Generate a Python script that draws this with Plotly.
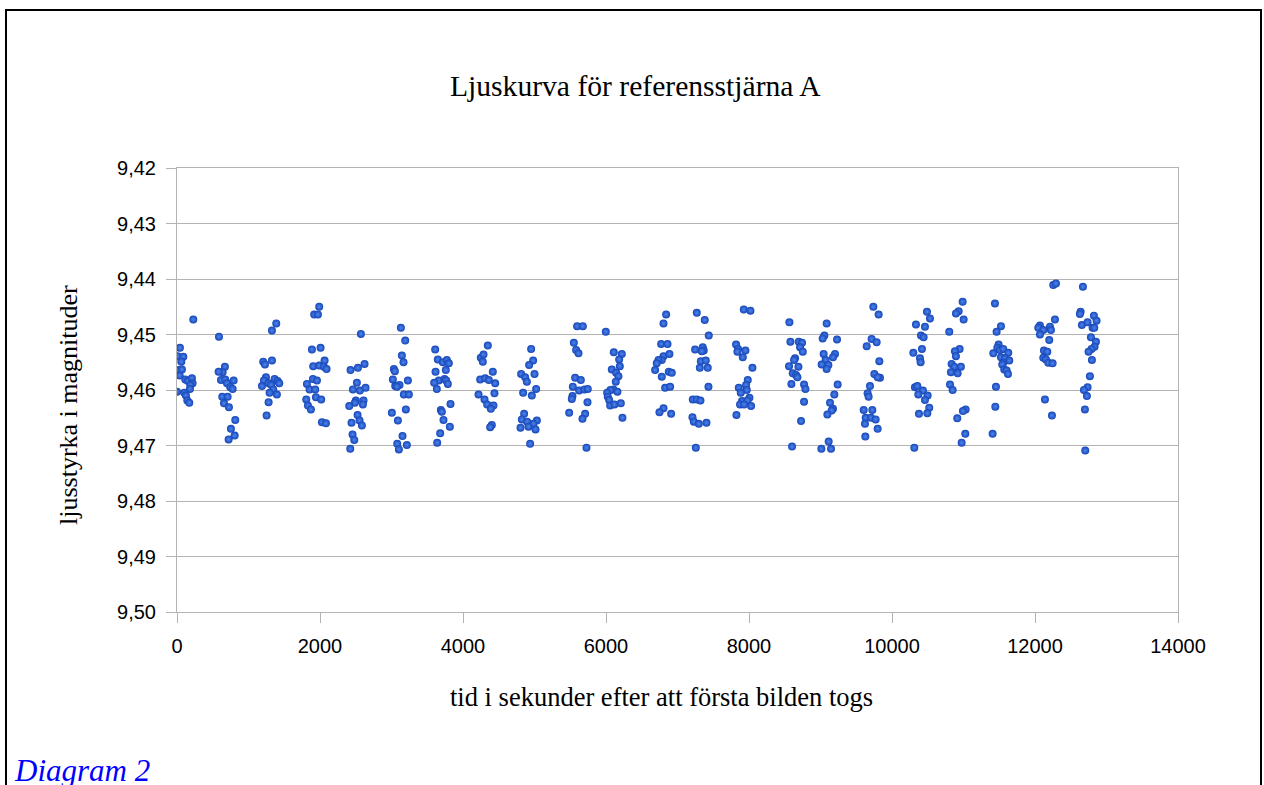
import plotly.graph_objects as go

# Time in seconds after the first image, grouped by observation block
time_s = [
    # block 1
    228, 41, 9, 88, 60, 23, 69, 37, 116, 153, 209, 218, 186, 181, 0, 102, 125, 144, 172,
    # block 2
    587, 670, 638, 582, 615, 675, 792, 699, 745, 778, 633, 708, 657, 726, 815, 754, 806, 722,
    # block 3
    1388, 1328, 1206, 1230, 1328, 1244, 1216, 1188, 1281, 1365, 1407, 1430, 1318, 1346, 1295, 1397, 1281, 1253,
    # block 4
    1989, 1919, 1971, 1887, 2008, 1905, 1989, 2064, 2054, 2092, 1901, 1957, 1817, 1854, 1933, 1808, 1943, 2017, 1831, 1873, 2027, 2083,
    # block 5
    2572, 2427, 2530, 2623, 2516, 2460, 2558, 2637, 2502, 2488, 2609, 2600, 2409, 2525, 2441, 2553, 2586, 2455, 2479, 2423,
    # block 6
    3131, 3192, 3145, 3168, 3033, 3047, 3019, 3229, 3052, 3112, 3075, 3173, 3243, 3201, 3005, 3089, 3154, 3080, 3215, 3103,
    # block 7
    3611, 3648, 3718, 3774, 3802, 3616, 3760, 3662, 3741, 3765, 3597, 3788, 3634, 3690, 3704, 3825, 3727, 3816, 3681, 3639,
    # block 8
    4347, 4249, 4287, 4277, 4417, 4240, 4310, 4361, 4450, 4217, 4301, 4440, 4338, 4426, 4389, 4403, 4380,
    # block 9
    4953, 4981, 4925, 4813, 4869, 4893, 5000, 5023, 4841, 4963, 4855, 4823, 4897, 5033, 4986, 4804, 4916, 5014, 4939,
    # block 10
    5596, 5676, 5550, 5582, 5615, 5568, 5648, 5536, 5624, 5699, 5745, 5531, 5522, 5741, 5708, 5485, 5671, 5727,
    # block 11
    5997, 6109, 6221, 6184, 6193, 6081, 6142, 6174, 6137, 6104, 6062, 6016, 6160, 6025, 6044, 6058, 6118, 6207, 6230,
    # block 12
    6841, 6804, 6771, 6860, 6804, 6887, 6780, 6734, 6710, 6687, 6878, 6920, 6780, 6827, 6897, 6804, 6911, 6748,
    # block 13
    7270, 7381, 7437, 7246, 7353, 7367, 7340, 7326, 7395, 7312, 7423, 7433, 7214, 7270, 7321, 7209, 7228, 7298, 7405, 7256,
    # block 14
    7927, 8020, 7819, 7847, 7838, 7950, 7913, 8048, 7983, 7959, 7857, 7969, 7885, 8006, 7903, 7978, 7875, 7931, 8029, 7824,
    # block 15
    8565, 8579, 8696, 8742, 8714, 8752, 8644, 8630, 8560, 8691, 8612, 8658, 8677, 8593, 8770, 8789, 8770, 8728, 8602,
    # block 16
    9086, 9054, 9030, 9231, 9044, 9203, 9175, 9072, 9016, 9110, 9086, 9240, 9193, 9133, 9175, 9156, 9096, 9114, 9012, 9147,
    # block 17
    9739, 9813, 9715, 9785, 9646, 9823, 9753, 9832, 9799, 9692, 9659, 9673, 9604, 9725, 9632, 9706, 9771, 9622, 9799, 9627,
    # block 18
    10489, 10531, 10335, 10461, 10405, 10442, 10419, 10298, 10391, 10400, 10321, 10354, 10433, 10368, 10498, 10461, 10521, 10377, 10494, 10312,
    # block 19
    10988, 10932, 10894, 11002, 10801, 10946, 10880, 10894, 10834, 10871, 10964, 10824, 10918, 10811, 10848, 11030, 10992, 10913, 11025, 10974,
    # block 20
    11440, 11524, 11463, 11417, 11491, 11473, 11510, 11556, 11626, 11524, 11580, 11640, 11556, 11542, 11570, 11603, 11622, 11454, 11445, 11407,
    # block 21
    12255, 12293, 12279, 12069, 12046, 12116, 12209, 12223, 12069, 12199, 12125, 12172, 12116, 12153, 12186, 12246, 12139, 12237,
    # block 22
    12670, 12638, 12628, 12824, 12861, 12656, 12735, 12805, 12829, 12782, 12852, 12833, 12791, 12749, 12796, 12768, 12735, 12684, 12726, 12698, 12703,
]

# Brightness in magnitudes, same order as time_s
magnitude = [
    9.4473, 9.4524, 9.4539, 9.4540, 9.4549, 9.4564, 9.4563, 9.4574, 9.4581, 9.4584, 9.4579, 9.4588, 9.4591, 9.4598, 9.4603, 9.4605, 9.4610, 9.4619, 9.4623,
    9.4504, 9.4558, 9.4568, 9.4567, 9.4582, 9.4581, 9.4583, 9.4588, 9.4595, 9.4598, 9.4612, 9.4612, 9.4624, 9.4631, 9.4654, 9.4670, 9.4682, 9.4689,
    9.4480, 9.4493, 9.4549, 9.4554, 9.4547, 9.4577, 9.4583, 9.4593, 9.4588, 9.4580, 9.4584, 9.4588, 9.4591, 9.4599, 9.4605, 9.4608, 9.4622, 9.4646,
    9.4450, 9.4464, 9.4464, 9.4527, 9.4524, 9.4557, 9.4556, 9.4547, 9.4558, 9.4562, 9.4580, 9.4583, 9.4589, 9.4599, 9.4599, 9.4617, 9.4613, 9.4617, 9.4628, 9.4635, 9.4658, 9.4660,
    9.4499, 9.4564, 9.4560, 9.4553, 9.4587, 9.4599, 9.4601, 9.4596, 9.4619, 9.4623, 9.4619, 9.4626, 9.4629, 9.4645, 9.4659, 9.4655, 9.4664, 9.4680, 9.4690, 9.4706,
    9.4488, 9.4511, 9.4538, 9.4550, 9.4562, 9.4566, 9.4581, 9.4583, 9.4593, 9.4591, 9.4594, 9.4608, 9.4608, 9.4635, 9.4641, 9.4655, 9.4683, 9.4697, 9.4699, 9.4707,
    9.4527, 9.4545, 9.4550, 9.4546, 9.4552, 9.4567, 9.4564, 9.4583, 9.4580, 9.4583, 9.4587, 9.4589, 9.4598, 9.4636, 9.4639, 9.4625, 9.4654, 9.4666, 9.4678, 9.4695,
    9.4520, 9.4542, 9.4536, 9.4549, 9.4567, 9.4581, 9.4579, 9.4582, 9.4588, 9.4608, 9.4617, 9.4606, 9.4626, 9.4628, 9.4634, 9.4663, 9.4667,
    9.4526, 9.4547, 9.4555, 9.4571, 9.4577, 9.4585, 9.4571, 9.4598, 9.4605, 9.4610, 9.4643, 9.4653, 9.4657, 9.4655, 9.4661, 9.4668, 9.4666, 9.4671, 9.4697,
    9.4485, 9.4485, 9.4515, 9.4528, 9.4534, 9.4578, 9.4582, 9.4594, 9.4601, 9.4599, 9.4598, 9.4611, 9.4616, 9.4622, 9.4643, 9.4641, 9.4652, 9.4704,
    9.4495, 9.4532, 9.4535, 9.4545, 9.4557, 9.4563, 9.4569, 9.4575, 9.4585, 9.4599, 9.4600, 9.4605, 9.4603, 9.4612, 9.4618, 9.4628, 9.4626, 9.4624, 9.4650,
    9.4464, 9.4480, 9.4517, 9.4517, 9.4539, 9.4535, 9.4546, 9.4546, 9.4552, 9.4564, 9.4567, 9.4569, 9.4576, 9.4596, 9.4594, 9.4633, 9.4643, 9.4640,
    9.4461, 9.4474, 9.4502, 9.4527, 9.4523, 9.4529, 9.4530, 9.4548, 9.4547, 9.4560, 9.4560, 9.4594, 9.4617, 9.4617, 9.4619, 9.4649, 9.4657, 9.4661, 9.4659, 9.4704,
    9.4455, 9.4457, 9.4518, 9.4526, 9.4531, 9.4529, 9.4541, 9.4560, 9.4582, 9.4591, 9.4596, 9.4600, 9.4605, 9.4614, 9.4620, 9.4619, 9.4626, 9.4626, 9.4629, 9.4645,
    9.4478, 9.4513, 9.4513, 9.4515, 9.4523, 9.4531, 9.4543, 9.4546, 9.4557, 9.4558, 9.4570, 9.4573, 9.4577, 9.4589, 9.4590, 9.4598, 9.4621, 9.4656, 9.4702,
    9.4480, 9.4502, 9.4507, 9.4509, 9.4535, 9.4535, 9.4541, 9.4546, 9.4554, 9.4555, 9.4562, 9.4590, 9.4608, 9.4623, 9.4634, 9.4637, 9.4644, 9.4693, 9.4706, 9.4706,
    9.4450, 9.4464, 9.4508, 9.4514, 9.4521, 9.4548, 9.4571, 9.4578, 9.4577, 9.4593, 9.4606, 9.4612, 9.4636, 9.4636, 9.4650, 9.4650, 9.4653, 9.4661, 9.4670, 9.4684,
    9.4459, 9.4471, 9.4482, 9.4486, 9.4502, 9.4505, 9.4526, 9.4533, 9.4543, 9.4550, 9.4595, 9.4593, 9.4601, 9.4608, 9.4610, 9.4618, 9.4632, 9.4643, 9.4642, 9.4704,
    9.4441, 9.4458, 9.4462, 9.4473, 9.4495, 9.4526, 9.4530, 9.4539, 9.4553, 9.4558, 9.4558, 9.4568, 9.4570, 9.4590, 9.4600, 9.4635, 9.4638, 9.4651, 9.4679, 9.4695,
    9.4444, 9.4485, 9.4495, 9.4534, 9.4518, 9.4524, 9.4528, 9.4526, 9.4533, 9.4541, 9.4543, 9.4547, 9.4551, 9.4554, 9.4563, 9.4565, 9.4571, 9.4594, 9.4630, 9.4679,
    9.4411, 9.4408, 9.4473, 9.4484, 9.4488, 9.4492, 9.4486, 9.4492, 9.4500, 9.4510, 9.4529, 9.4531, 9.4542, 9.4545, 9.4551, 9.4552, 9.4617, 9.4646,
    9.4414, 9.4459, 9.4463, 9.4466, 9.4475, 9.4483, 9.4478, 9.4488, 9.4488, 9.4505, 9.4513, 9.4522, 9.4526, 9.4531, 9.4546, 9.4575, 9.4595, 9.4600, 9.4611, 9.4635, 9.4709,
]

x_ticks = [0, 2000, 4000, 6000, 8000, 10000, 12000, 14000]
y_ticks = [9.42, 9.43, 9.44, 9.45, 9.46, 9.47, 9.48, 9.49, 9.50]

title_text = "Ljuskurva för referensstjärna A"
x_title = "tid i sekunder efter att första bilden togs"
y_title = "ljusstyrka i magnituder"
caption = "Diagram 2"

GRID = "#b3b3b3"
SANS = "Liberation Sans, Arial, sans-serif"
SERIF = "Liberation Serif, Times New Roman, serif"

fig = go.Figure()
fig.add_trace(go.Scatter(
    x=time_s, y=magnitude, mode="markers",
    marker=dict(size=8, color="#1646b8",
                gradient=dict(type="radial", color="#4f86ee"),
                line=dict(width=0)),
    showlegend=False, hoverinfo="x+y",
))

L, R, T, B = 177, 1264 - 1178, 168, 785 - 612
W, H = 1264 - L - R, 785 - T - B

def px(xp):
    return (xp - L) / W

def py(yp):
    return (785 - B - yp) / H

fig.update_layout(
    width=1264, height=785,
    margin=dict(l=L, r=R, t=T, b=B, autoexpand=False),
    paper_bgcolor="white", plot_bgcolor="white",
    separators=",.",
    font=dict(family=SANS, size=20, color="black"),
    xaxis=dict(range=[0, 14000], tickvals=x_ticks, tickformat="d",
               showgrid=False, zeroline=False,
               showline=True, linecolor=GRID, linewidth=1, mirror=True,
               ticks="outside", ticklen=10, tickcolor=GRID, tickwidth=1,
               tickfont=dict(family=SANS, size=20, color="black"),
               ticklabelstandoff=6),
    yaxis=dict(range=[9.50, 9.42], tickvals=y_ticks, tickformat=".2f",
               showgrid=True, gridcolor=GRID, gridwidth=1, zeroline=False,
               showline=True, linecolor=GRID, linewidth=1, mirror=True,
               ticks="outside", ticklen=10, tickcolor=GRID, tickwidth=1,
               tickfont=dict(family=SANS, size=20, color="black"),
               ticklabelstandoff=6),
    annotations=[
        dict(text=title_text, x=px(635), y=py(86), xref="paper", yref="paper",
             xanchor="center", yanchor="middle", showarrow=False,
             font=dict(family=SERIF, size=29.6, color="black")),
        dict(text=x_title, x=px(661), y=py(697), xref="paper", yref="paper",
             xanchor="center", yanchor="middle", showarrow=False,
             font=dict(family=SERIF, size=26.5, color="black")),
        dict(text=y_title, x=px(68), y=py(405), xref="paper", yref="paper",
             xanchor="center", yanchor="middle", showarrow=False, textangle=-90,
             font=dict(family=SERIF, size=26, color="black")),
        dict(text="<i>" + caption + "</i>", x=px(12), y=py(770), xref="paper", yref="paper",
             xanchor="left", yanchor="middle", showarrow=False,
             font=dict(family=SERIF, size=31, color="#0000ff")),
    ],
    shapes=[
        dict(type="rect", xref="paper", yref="paper",
             x0=px(6), x1=px(1261), y0=py(830), y1=py(10),
             line=dict(color="black", width=2), fillcolor="rgba(0,0,0,0)", layer="above"),
    ],
)

fig.write_html("out.html",
               config={"displayModeBar": False},
               post_script="document.body.style.margin='0';document.body.style.overflow='hidden';")
